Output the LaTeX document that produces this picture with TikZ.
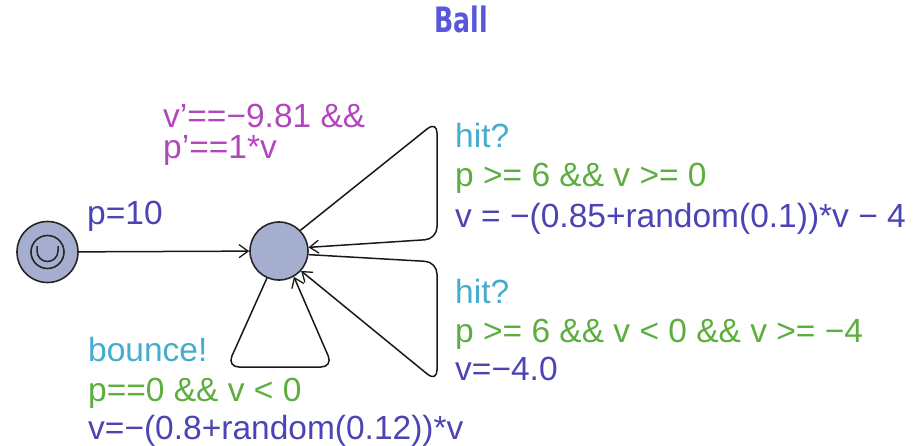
\documentclass[tikz,border=0pt]{standalone}
\usepackage{fontspec}
\setmainfont{Liberation Sans}
\newfontfamily\titlefont{DejaVu Sans}
\usetikzlibrary{arrows.meta}
\definecolor{locfill}{HTML}{A6AECF}
\definecolor{titleblue}{HTML}{5858D8}
\definecolor{assigncol}{HTML}{4C44B4}
\definecolor{guardcol}{HTML}{5CAE3E}
\definecolor{synccol}{HTML}{44ACCC}
\definecolor{invcol}{HTML}{B048BC}
\begin{document}
\begin{tikzpicture}[x=1pt,y=-1pt,
  loc/.style={circle,draw=black!85,fill=locfill,line width=1.6pt,minimum size=58pt,inner sep=0pt},
  edge/.style={line width=1.5pt,draw=black!90,rounded corners=12pt,
    -{Straight Barb[length=9pt,width=13pt,line width=1.3pt]}},
  lab/.style={anchor=base west,inner sep=0pt,font=\fontsize{33.5}{40}\selectfont},
]
\useasboundingbox (0,0) rectangle (917,446);
\node[anchor=base,inner sep=0pt,text=titleblue,font=\titlefont\bfseries\fontsize{35}{40}\selectfont] (title) at (461,33) {\scalebox{0.72}[1]{Ball}};

% locations
\node[loc,minimum size=61pt] (init) at (47.5,252) {};
\node[circle,draw=black!85,line width=1.6pt,minimum size=33pt,inner sep=0pt] (initin) at (47.5,252) {};
\draw[line width=1.5pt,draw=black!85] (37,246) -- (37,251) arc[start angle=180,end angle=0,radius=10.5] -- (58,246);
\node[loc] (main) at (279,251) {};

% edges
\draw[edge] (init) -- (main);
\coordinate (n1a) at (437,121);
\coordinate (n1b) at (437,239);
\draw[edge] (main.44) -- (n1a) -- (n1b) -- (main.7);
\coordinate (n2a) at (437,262);
\coordinate (n2b) at (437,382);
\draw[edge] (main.-7) -- (n2a) -- (n2b) -- (main.-42);
\coordinate (n3a) at (227,367);
\coordinate (n3b) at (333,367);
\draw[edge] (main.-114) -- (n3a) -- (n3b) -- (main.-60);

% labels
\node[lab,text=assigncol] (l0) at (87,225) {p=10};
\node[lab,text=invcol] (inv1) at (163,128) {v’==−9.81 \&\&};
\node[lab,text=invcol] (inv2) at (163,159) {p’==1*v};

\node[lab,text=synccol] (s1) at (455,148) {hit?};
\node[lab,text=guardcol] (g1) at (455,187) {p >= 6 \&\& v >= 0};
\node[lab,text=assigncol] (a1) at (455,227) {v = −(0.85+random(0.1))*v − 4};

\node[lab,text=synccol] (s2) at (455,303) {hit?};
\node[lab,text=guardcol] (g2) at (455,342) {p >= 6 \&\& v < 0 \&\& v >= −4};
\node[lab,text=assigncol] (a2) at (455,380) {v=−4.0};

\node[lab,text=synccol] (s3) at (88,361) {bounce!};
\node[lab,text=guardcol] (g3) at (88,401) {p==0 \&\& v < 0};
\node[lab,text=assigncol] (a3) at (88,439) {v=−(0.8+random(0.12))*v};
\end{tikzpicture}
\end{document}
